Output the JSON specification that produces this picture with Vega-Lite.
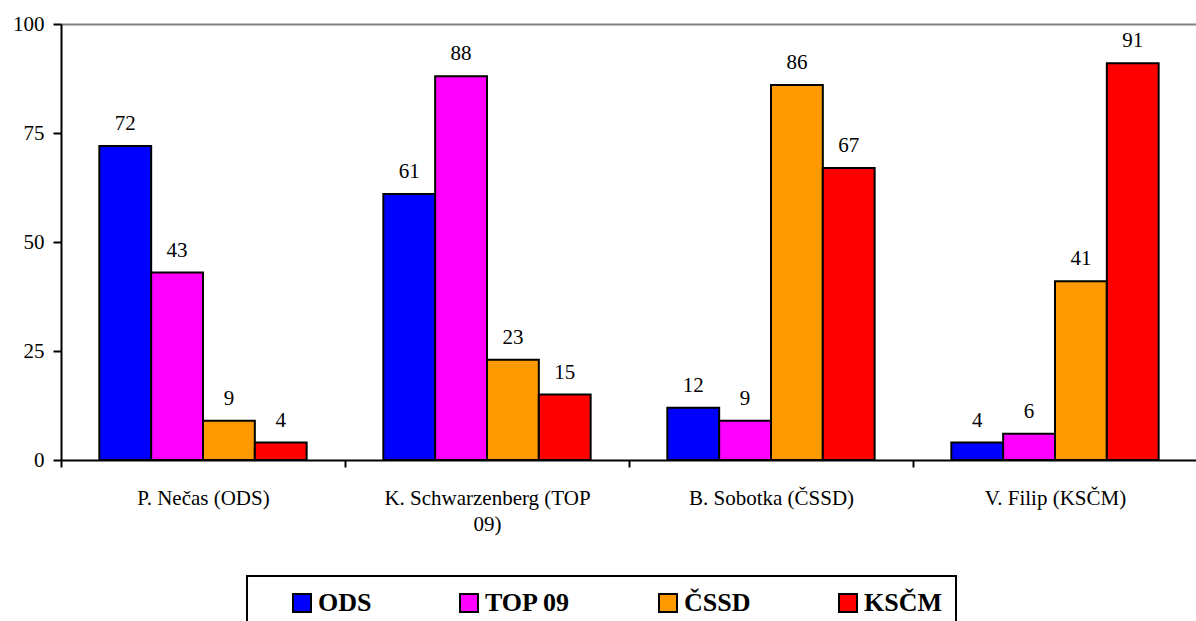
{
  "$schema": "https://vega.github.io/schema/vega-lite/v6.json",
  "width": 1136,
  "height": 436,
  "autosize": {"type": "none"},
  "padding": {"left": 61, "top": 24, "right": 0, "bottom": 161},
  "background": "white",
  "data": {"values": [
    {"candidate": "P. Nečas (ODS)", "party": "ODS", "value": 72},
    {"candidate": "P. Nečas (ODS)", "party": "TOP 09", "value": 43},
    {"candidate": "P. Nečas (ODS)", "party": "ČSSD", "value": 9},
    {"candidate": "P. Nečas (ODS)", "party": "KSČM", "value": 4},
    {"candidate": "K. Schwarzenberg (TOP 09)", "party": "ODS", "value": 61},
    {"candidate": "K. Schwarzenberg (TOP 09)", "party": "TOP 09", "value": 88},
    {"candidate": "K. Schwarzenberg (TOP 09)", "party": "ČSSD", "value": 23},
    {"candidate": "K. Schwarzenberg (TOP 09)", "party": "KSČM", "value": 15},
    {"candidate": "B. Sobotka (ČSSD)", "party": "ODS", "value": 12},
    {"candidate": "B. Sobotka (ČSSD)", "party": "TOP 09", "value": 9},
    {"candidate": "B. Sobotka (ČSSD)", "party": "ČSSD", "value": 86},
    {"candidate": "B. Sobotka (ČSSD)", "party": "KSČM", "value": 67},
    {"candidate": "V. Filip (KSČM)", "party": "ODS", "value": 4},
    {"candidate": "V. Filip (KSČM)", "party": "TOP 09", "value": 6},
    {"candidate": "V. Filip (KSČM)", "party": "ČSSD", "value": 41},
    {"candidate": "V. Filip (KSČM)", "party": "KSČM", "value": 91}
  ]},
  "encoding": {
    "x": {
      "field": "candidate", "type": "nominal", "sort": null,
      "scale": {"paddingInner": 0, "paddingOuter": 0},
      "axis": {
        "title": null, "labelAngle": 0, "tickBand": "extent",
        "domainColor": "black", "domainWidth": 2, "tickColor": "black", "tickWidth": 2, "tickSize": 7,
        "labelFont": "Liberation Serif", "labelFontSize": 21, "labelColor": "black", "labelPadding": 20,
        "labelLimit": 400,
        "labelExpr": "datum.value == 'K. Schwarzenberg (TOP 09)' ? ['K. Schwarzenberg (TOP', '09)'] : datum.value",
        "labelLineHeight": 26
      }
    },
    "xOffset": {"field": "party", "type": "nominal", "sort": ["ODS", "TOP 09", "ČSSD", "KSČM"], "scale": {"paddingInner": 0, "paddingOuter": 0.74}},
    "y": {
      "field": "value", "type": "quantitative",
      "scale": {"domain": [0, 100], "nice": false},
      "axis": {
        "title": null, "values": [0, 25, 50, 75, 100],
        "domainColor": "black", "domainWidth": 2, "tickColor": "black", "tickWidth": 2, "tickSize": 8,
        "labelFont": "Liberation Serif", "labelFontSize": 21, "labelColor": "black", "labelPadding": 9,
        "grid": true, "gridColor": "#808080", "gridWidth": 2,
        "gridOpacity": {"condition": {"test": "datum.value === 100", "value": 1}, "value": 0}
      }
    }
  },
  "layer": [
    {
      "mark": {"type": "bar", "stroke": "black", "strokeWidth": 2},
      "encoding": {
        "color": {
          "field": "party", "type": "nominal",
          "sort": ["ODS", "TOP 09", "ČSSD", "KSČM"],
          "scale": {"domain": ["ODS", "TOP 09", "ČSSD", "KSČM"], "range": ["#0000FF", "#FF00FF", "#FF9900", "#FF0000"]},
          "legend": {
            "title": null, "orient": "none", "legendX": 186, "legendY": 552,
            "direction": "horizontal", "symbolType": "square", "symbolSize": 324,
            "symbolStrokeColor": "black", "symbolStrokeWidth": 2, "symbolOpacity": 1,
            "symbolOffset": 28,
            "labelFont": "Liberation Serif", "labelFontSize": 26, "labelFontWeight": "bold", "labelColor": "black",
            "labelOffset": 3, "columnPadding": 56,
            "strokeColor": "black", "padding": 14
          }
        }
      }
    },
    {
      "mark": {"type": "text", "baseline": "bottom", "dy": -12, "font": "Liberation Serif", "fontSize": 21, "color": "black"},
      "encoding": {"text": {"field": "value", "type": "quantitative"}}
    }
  ],
  "config": {
    "view": {"stroke": null},
    "legend": {"strokeWidth": 2}
  }
}
